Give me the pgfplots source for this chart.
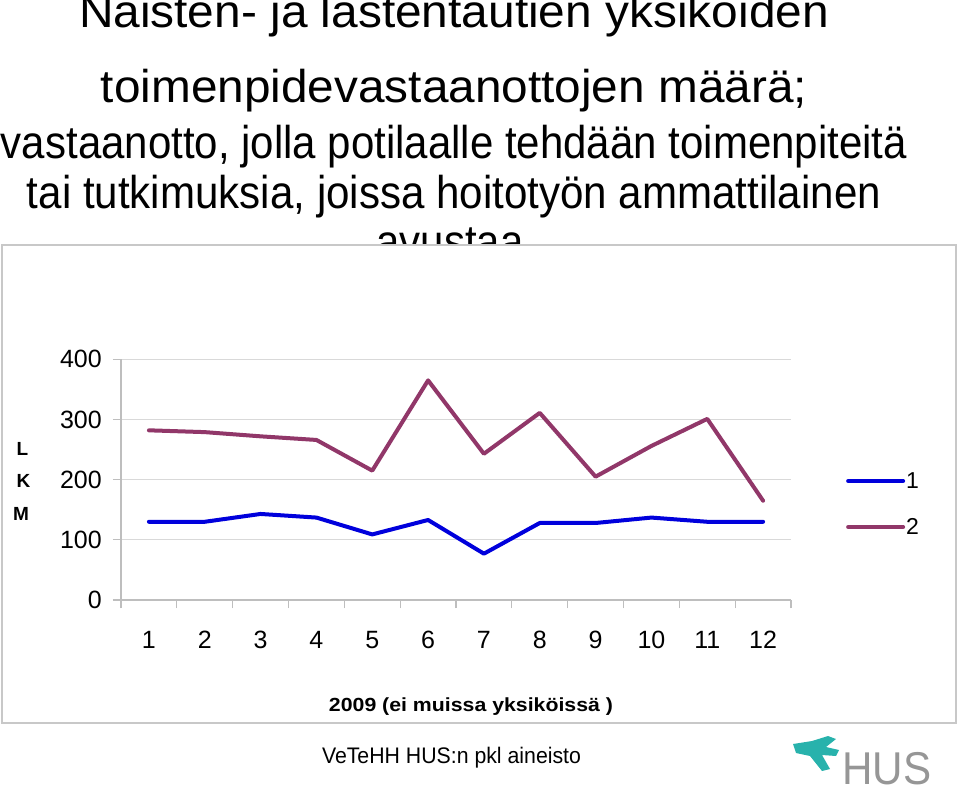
\documentclass[border=0pt]{standalone}
\usepackage{fontspec}
\setmainfont{Liberation Sans}
\usepackage{graphicx}
\usepackage{pgfplots}
\usepackage{pgfplotstable}
\pgfplotsset{compat=1.18}

\definecolor{sarja1}{RGB}{0,0,220}
\definecolor{sarja2}{RGB}{145,55,105}
\definecolor{ruudukko}{RGB}{217,217,217}
\definecolor{akseli}{RGB}{190,190,190}
\definecolor{reuna}{RGB}{200,200,200}
\definecolor{husteal}{RGB}{40,178,172}
\definecolor{husgray}{RGB}{150,150,150}

% kuukausi, yksikko 1, yksikko 2
\pgfplotstableread{
kk s1  s2
1  130 282
2  130 279
3  143 272
4  137 266
5  109 215
6  133 365
7  77  243
8  128 311
9  128 205
10 137 256
11 130 301
12 130 165
}\lkm

\newcommand\otsake[2]{\resizebox{#1}{\height}{\fontsize{46}{46}\selectfont #2}}
\newcommand\tickfont{\fontsize{25}{25}\selectfont}

\begin{document}
\begin{tikzpicture}[x=1pt,y=-1pt]
\path[use as bounding box] (0,0) rectangle (960,788);

% otsikko
\node[anchor=base,inner sep=0pt] at (454,27) {\otsake{750pt}{Naisten- ja lastentautien yksiköiden}};
\node[anchor=base,inner sep=0pt] at (454,102) {\otsake{706pt}{toimenpidevastaanottojen määrä;}};
\node[anchor=base,inner sep=0pt] at (454,158) {\otsake{906pt}{vastaanotto, jolla potilaalle tehdään toimenpiteitä}};
\node[anchor=base,inner sep=0pt] at (454,208) {\otsake{854pt}{tai tutkimuksia, joissa hoitotyön ammattilainen}};
\node[anchor=base,inner sep=0pt] at (450,257) {\otsake{147pt}{avustaa}};

\draw[reuna,line width=1.5pt,fill=white] (2,245) rectangle (956,723);

\begin{axis}[
    at={(121pt,-600pt)}, anchor=south west,
    scale only axis, width=670pt, height=240.7pt,
    xmin=0.5, xmax=12.5, ymin=0, ymax=400,
    axis lines*=left,
    axis line style={akseli,line width=1.2pt},
    tick align=outside, major tick length=0pt, minor tick length=8pt,
    tick style={akseli,line width=1.2pt},
    xtick={1,...,12}, minor xtick={0.5,1.5,...,12.5},
    xticklabel style={font=\tickfont,anchor=north,inner sep=0pt,yshift=-31pt},
    ytick={0,100,...,400}, minor ytick={0,100,...,400},
    yticklabel style={font=\tickfont,anchor=east,inner sep=0pt,xshift=-19pt},
    /pgf/number format/assume math mode=true,
    ymajorgrids, grid style={ruudukko,line width=1.2pt},
    legend style={draw=none,fill=none,at={(1.082,0.399)},anchor=west,
        inner sep=0pt,row sep=30pt,column sep=1pt,
        nodes={inner sep=0pt,text height=16pt,text depth=0pt},
        font=\fontsize{23}{23}\selectfont},
    legend cell align=left,
    legend image code/.code={\draw[#1,line width=4pt] (0pt,0pt) -- (55pt,0pt);},
]
\addplot[sarja1,line width=4pt,line join=round,line cap=round] table[x=kk,y=s1]{\lkm};
\addlegendentry{1}
\addplot[sarja2,line width=4pt,line join=round,line cap=round] table[x=kk,y=s2]{\lkm};
\addlegendentry{2}
\end{axis}

% pystyakselin otsikko
\node[anchor=base,inner sep=0pt,font=\fontsize{19}{19}\selectfont\bfseries] at (22.5,455) {L};
\node[anchor=base,inner sep=0pt,font=\fontsize{19}{19}\selectfont\bfseries] at (23.5,487) {K};
\node[anchor=base,inner sep=0pt,font=\fontsize{19}{19}\selectfont\bfseries] at (21,520) {M};

% vaaka-akselin otsikko
\node[anchor=base,inner sep=0pt] at (471,711)
    {\resizebox{284pt}{\height}{\fontsize{19}{19}\selectfont\bfseries 2009 (ei muissa yksiköissä )}};

% lähde
\node[anchor=base,inner sep=0pt] at (451.5,763)
    {\resizebox{259pt}{\height}{\fontsize{22.5}{22.5}\selectfont VeTeHH HUS:n pkl aineisto}};

% HUS-logo
\fill[husteal] (793,744) -- (812,741) -- (828,736) -- (836,739) -- (826,747) -- (839,750) -- (836,756) -- (822,755) -- (830,769) -- (822,771) -- (810,756) -- (796,753) -- cycle;
\node[anchor=base west,inner sep=0pt,text=husgray] at (842,784)
    {\resizebox{89pt}{\height}{\fontsize{46}{46}\selectfont HUS}};
\end{tikzpicture}
\end{document}
